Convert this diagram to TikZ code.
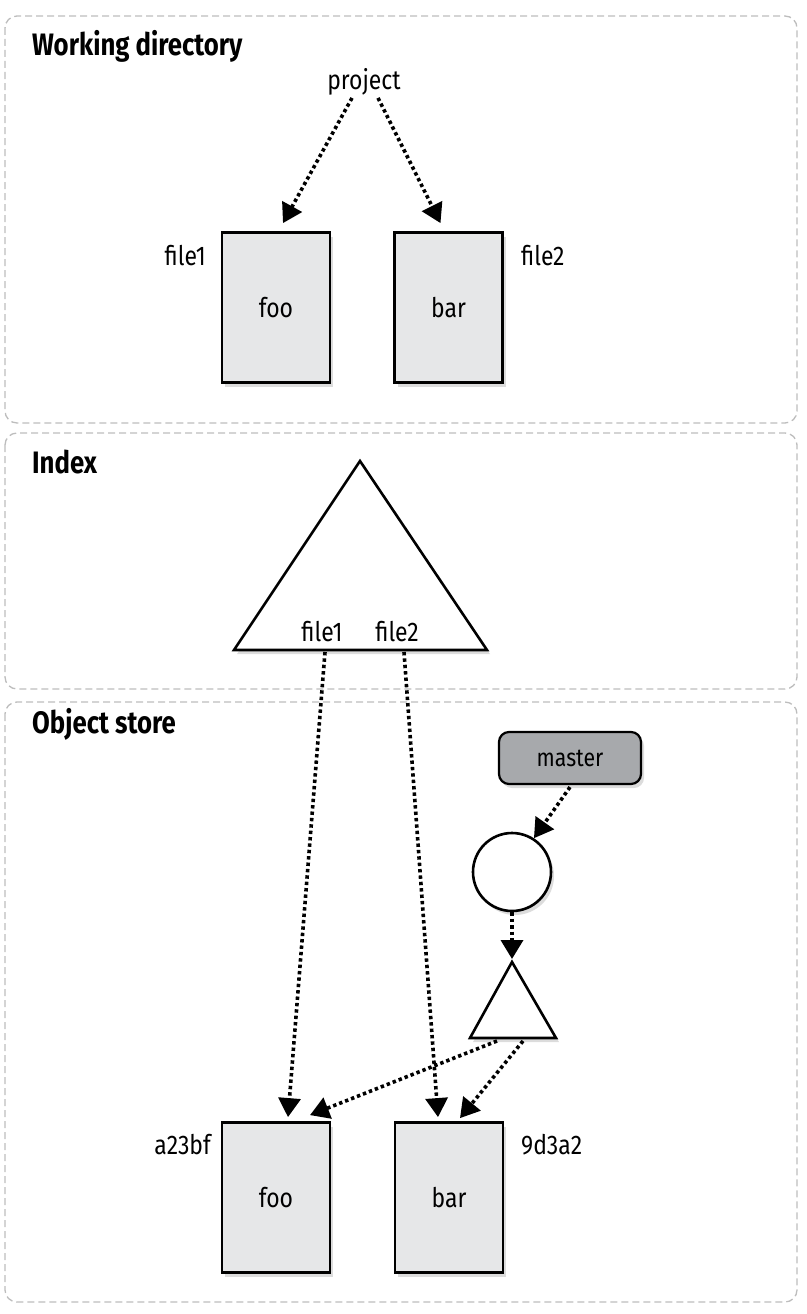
\documentclass[tikz,border=0pt]{standalone}
\usepackage{fontspec}
\setmainfont[FakeStretch=0.85,BoldFeatures={FakeStretch=0.83}]{Fira Sans}
\usetikzlibrary{arrows.meta,shadows}
\definecolor{boxfill}{HTML}{E6E7E8}
\definecolor{masterfill}{HTML}{A7A9AC}
\definecolor{panelline}{HTML}{BDBDBD}
\begin{document}
\begin{tikzpicture}[x=1pt,y=-1pt,
  panel/.style={draw=panelline, line width=1.3pt, dash pattern=on 7pt off 4pt, rounded corners=12pt},
  title/.style={font=\bfseries\fontsize{31}{36}\selectfont, anchor=base west, inner sep=0pt},
  lbl/.style={font=\fontsize{27}{32}\selectfont, inner sep=0pt},
  shadowed/.style={drop shadow={opacity=0.28, shadow xshift=3pt, shadow yshift=-4pt}},
  filebox/.style={draw, line width=2.8pt, fill=boxfill, minimum width=108pt, minimum height=150pt, inner sep=0pt, shadowed, font=\fontsize{27}{32}\selectfont},
  shapeline/.style={draw, line width=2.6pt, fill=white, shadowed},
  ptr/.style={line width=3.6pt, dash pattern=on 3.4pt off 3pt, -{Triangle[length=19pt,width=22pt]}},
]
\useasboundingbox (0,0) rectangle (806,1314);
% panels
\draw[panel] (5,16) rectangle (797,423);
\draw[panel] (5,433) rectangle (797,689);
\draw[panel] (5,702) rectangle (797,1302);
\node[title] (t1) at (32,56) {Working directory};
\node[title] (t2) at (32,473) {Index};
\node[title] (t3) at (32,733) {Object store};

% working directory
\node[lbl, anchor=base] (project) at (364,89) {project};
\node[filebox] (foo1) at (276,307.5) {foo};
\node[filebox] (bar1) at (448.5,307.5) {bar};
\node[lbl, anchor=east] (f1) at (206,256) {file1};
\node[lbl, anchor=west] (f2) at (521,256) {file2};
\draw[ptr] ([xshift=-12pt,yshift=-3pt]project.south) -- ([xshift=7pt,yshift=8pt]foo1.north);
\draw[ptr] ([xshift=14pt,yshift=-3pt]project.south) -- ([xshift=-8pt,yshift=8pt]bar1.north);

% index
\coordinate (ia) at (360,461);
\coordinate (ib) at (234,650);
\coordinate (ic) at (487,650);
\path[shapeline] (ia) -- (ib) -- (ic) -- cycle;
\node[lbl, anchor=base] (if1) at (322,641) {file1};
\node[lbl, anchor=base] (if2) at (397,641) {file2};
\coordinate (ib1) at (325,652);
\coordinate (ib2) at (404,652);

% object store
\node[draw, line width=2.2pt, fill=masterfill, rounded corners=10pt, minimum width=142pt, minimum height=52pt, inner sep=0pt, shadowed, font=\fontsize{25}{30}\selectfont] (master) at (570,758) {master};
\node[circle, shapeline, minimum size=78pt, inner sep=0pt] (commit) at (512,872) {};
\coordinate (ta) at (512,962);
\coordinate (tb) at (470,1038);
\coordinate (tc) at (556,1038);
\path[shapeline] (ta) -- (tb) -- (tc) -- cycle;
\coordinate (tb1) at (497,1041);
\coordinate (tb2) at (523,1041);

\node[filebox] (foo2) at (276,1197.5) {foo};
\node[filebox] (bar2) at (449,1197.5) {bar};
\node[lbl, anchor=east] (h1) at (211,1145) {a23bf};
\node[lbl, anchor=west] (h2) at (521,1145) {9d3a2};

\draw[ptr] ([yshift=-2pt]master.south) -- (commit.57);
\draw[ptr] (commit.south) -- ([yshift=3pt]ta);
\draw[ptr] (tb1) -- ([xshift=34pt,yshift=6pt]foo2.north);
\draw[ptr] (tb2) -- ([xshift=11pt,yshift=3pt]bar2.north);
\draw[ptr] (ib1) -- ([xshift=12pt,yshift=4pt]foo2.north);
\draw[ptr] (ib2) -- ([xshift=-11pt,yshift=4pt]bar2.north);
\end{tikzpicture}
\end{document}
